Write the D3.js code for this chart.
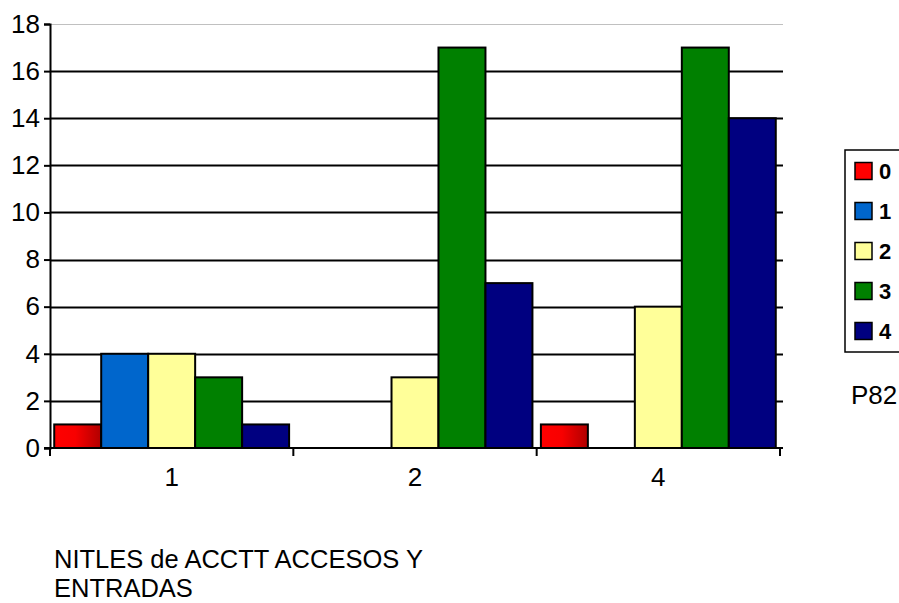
<!DOCTYPE html>
<html>
<head>
<meta charset="utf-8">
<script src="https://cdn.jsdelivr.net/npm/d3@7"></script>
<style>
  html, body { margin: 0; padding: 0; background: #fff; }
  svg { display: block; font-family: Arial, "Liberation Sans", sans-serif; }
</style>
</head>
<body>
<svg id="chart" width="899" height="603"></svg>
<script>
// Categories along the x axis and the series in each group
const categories = ["1", "2", "4"];
const seriesNames = ["0", "1", "2", "3", "4"];
const seriesColors = ["#FF0000", "#0066CC", "#FFFF99", "#008000", "#000080"];
// values[s][c]: series s, category c
const values = [
  [1, 0, 1],
  [4, 0, 0],
  [4, 3, 6],
  [3, 17, 17],
  [1, 7, 14]
];
const yTicks = [0, 2, 4, 6, 8, 10, 12, 14, 16, 18];
const titleLines = ["NITLES de ACCTT ACCESOS Y", "ENTRADAS"];
const fieldLabel = "P82";

const svg = d3.select("#chart");
const plot = { left: 50, right: 780, top: 24, bottom: 448 };
const FONT = 26;

const x0 = d3.scaleBand().domain(categories).range([plot.left, plot.right]).padding(0);
const x1 = d3.scaleBand().domain(seriesNames).range([0, x0.bandwidth()])
  .paddingInner(0).paddingOuter(0.09);
const y = d3.scaleLinear().domain([0, 18]).range([plot.bottom, plot.top]);

// gradient for the red series
const defs = svg.append("defs");
const grad = defs.append("linearGradient").attr("id", "redGrad")
  .attr("x1", "0%").attr("x2", "100%").attr("y1", "0%").attr("y2", "0%");
grad.append("stop").attr("offset", "0%").attr("stop-color", "#FF0000");
grad.append("stop").attr("offset", "45%").attr("stop-color", "#F80000");
grad.append("stop").attr("offset", "100%").attr("stop-color", "#B00000");

// horizontal gridlines
svg.append("g").selectAll("line")
  .data(yTicks.filter(d => d > 0))
  .join("line")
  .attr("x1", plot.left).attr("x2", plot.right + 3)
  .attr("y1", d => Math.round(y(d)) + 0.5).attr("y2", d => Math.round(y(d)) + 0.5)
  .attr("stroke", d => d === 18 ? "#c0c0c0" : "#000")
  .attr("stroke-width", d => d === 18 ? 1 : 2);

// bars
const fillFor = i => i === 0 ? "url(#redGrad)" : seriesColors[i];
const groups = svg.append("g").selectAll("g")
  .data(categories)
  .join("g")
  .attr("transform", d => `translate(${x0(d)},0)`);

groups.selectAll("rect")
  .data((c, ci) => seriesNames.map((s, si) => ({ s, si, v: values[si][ci] })).filter(d => d.v > 0))
  .join("rect")
  .attr("x", d => x1(d.s))
  .attr("width", x1.bandwidth())
  .attr("y", d => y(d.v))
  .attr("height", d => y(0) - y(d.v))
  .attr("fill", d => fillFor(d.si))
  .attr("stroke", "#000")
  .attr("stroke-width", 2);

// y axis
const yAxis = d3.axisLeft(y).tickValues(yTicks).tickSize(6).tickPadding(4);
const gy = svg.append("g").attr("transform", `translate(${plot.left},0)`).call(yAxis);
gy.select(".domain").attr("stroke", "#000").attr("stroke-width", 2);
gy.selectAll(".tick line").attr("stroke", "#000").attr("stroke-width", 2);
gy.selectAll(".tick text").attr("font-size", FONT).attr("fill", "#000")
  .attr("font-family", "Arial, 'Liberation Sans', sans-serif");

// x axis: ticks at category boundaries
const gx = svg.append("g").attr("transform", `translate(0,${plot.bottom})`);
gx.append("line").attr("x1", plot.left - 6).attr("x2", plot.right + 3)
  .attr("y1", 0).attr("y2", 0).attr("stroke", "#000").attr("stroke-width", 2);
const bounds = categories.map(c => x0(c)).concat([plot.right]);
gx.selectAll("line.bt").data(bounds).join("line").attr("class", "bt")
  .attr("x1", d => d).attr("x2", d => d).attr("y1", 0).attr("y2", 8)
  .attr("stroke", "#000").attr("stroke-width", 2);
gx.selectAll("text").data(categories).join("text")
  .attr("x", d => x0(d) + x0.bandwidth() / 2)
  .attr("y", 38)
  .attr("text-anchor", "middle")
  .attr("font-size", FONT)
  .text(d => d);

// legend
const legend = svg.append("g").attr("transform", "translate(845,150)");
legend.append("rect").attr("x", 0).attr("y", 0).attr("width", 70).attr("height", 202)
  .attr("fill", "#fff").attr("stroke", "#000").attr("stroke-width", 1.5);
const items = legend.selectAll("g.item").data(seriesNames).join("g").attr("class", "item")
  .attr("transform", (d, i) => `translate(10,${21 + i * 40})`);
items.append("rect").attr("x", 0).attr("y", -8.5).attr("width", 17).attr("height", 17)
  .attr("fill", (d, i) => seriesColors[i]).attr("stroke", "#000").attr("stroke-width", 1.5);
items.append("text").attr("x", 24).attr("y", 8)
  .attr("font-size", 22).attr("font-weight", "bold").text(d => d);

// field label
svg.append("text").attr("x", 851).attr("y", 404)
  .attr("font-size", FONT).text(fieldLabel);

// title at bottom
svg.append("g").selectAll("text").data(titleLines).join("text")
  .attr("x", 54).attr("y", (d, i) => 568 + i * 29)
  .attr("font-size", 25.5).text(d => d);
</script>
</body>
</html>
